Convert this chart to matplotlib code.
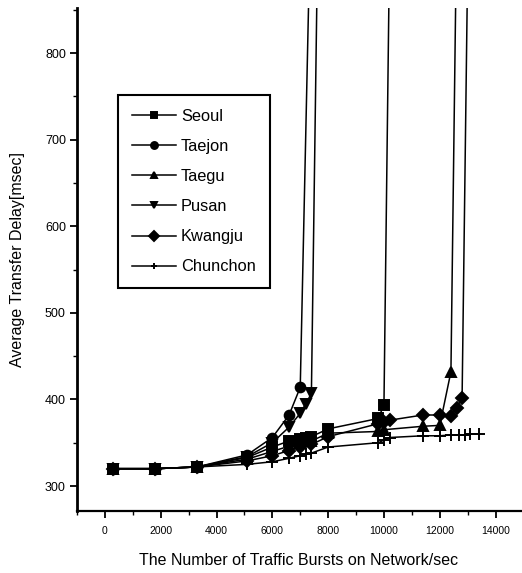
import matplotlib.pyplot as plt
from matplotlib.ticker import MultipleLocator

plt.rcParams['font.family'] = ['Liberation Sans', 'DejaVu Sans']

# values (last point of a saturating series is off-scale)
seoul_x = [300, 1800, 3300, 5100, 6000, 6600, 7000, 7200, 7400, 8000, 9800, 10000, 10200]
seoul_y = [320, 320, 322, 333, 345, 352, 354, 355, 357, 366, 378, 394, 920]

taejon_x = [300, 1800, 3300, 5100, 6000, 6600, 7000, 7400]
taejon_y = [320, 320, 322, 336, 356, 382, 414, 1006]

taegu_x = [300, 1800, 3300, 5100, 6000, 6600, 7000, 7400, 8000, 9800, 10000, 11400, 12000, 12400, 12700]
taegu_y = [320, 320, 322, 331, 340, 346, 350, 352, 361, 363, 365, 369, 370, 432, 1186]

pusan_x = [300, 1800, 3300, 5100, 6000, 6600, 7000, 7200, 7400, 8000]
pusan_y = [320, 320, 322, 334, 350, 368, 384, 395, 407, 1804]

kwangju_x = [300, 1800, 3300, 5100, 6000, 6600, 7000, 7400, 8000, 9800, 10000, 10200,
             11400, 12000, 12400, 12600, 12800, 13100]
kwangju_y = [320, 320, 322, 329, 335, 341, 345, 348, 357, 372, 374, 376,
             382, 382, 381, 390, 402, 1152]

chunchon_x = [300, 1800, 3300, 5100, 6000, 6600, 7000, 7200, 7400, 8000, 9800, 10000, 10200,
              11400, 12000, 12400, 12700, 12900, 13100, 13400]
chunchon_y = [320, 320, 322, 325, 328, 332, 335, 337, 338, 345, 350, 353, 356,
              358, 358, 359, 359, 359, 360, 360]

series = [
    ("Seoul", seoul_x, seoul_y, 's'),
    ("Taejon", taejon_x, taejon_y, 'o'),
    ("Taegu", taegu_x, taegu_y, '^'),
    ("Pusan", pusan_x, pusan_y, 'v'),
    ("Kwangju", kwangju_x, kwangju_y, 'D'),
    ("Chunchon", chunchon_x, chunchon_y, '+'),
]

fig = plt.figure(figsize=(5.22, 5.73), dpi=100)
ax = fig.add_axes([0.1475, 0.108, 0.85, 0.878])

for name, xs, ys, mk in series:
    ms = {'D': 6, '+': 8}.get(mk, 7)
    ax.plot(xs, ys, color='black', lw=1.1, marker=mk, ms=ms,
            mew=1.4, label=name)

ax.set_xlim(-1000, 14900)
ax.set_ylim(271, 852)
ax.xaxis.set_major_locator(MultipleLocator(2000))
ax.xaxis.set_minor_locator(MultipleLocator(1000))
ax.yaxis.set_major_locator(MultipleLocator(100))
ax.yaxis.set_minor_locator(MultipleLocator(50))

for side in ['top', 'right']:
    ax.spines[side].set_visible(False)
ax.spines['left'].set_linewidth(2.0)
ax.spines['bottom'].set_linewidth(1.6)

ax.tick_params(axis='both', which='major', direction='out', length=5, width=1.3)
ax.tick_params(axis='both', which='minor', direction='out', length=3, width=1.0)
ax.tick_params(axis='y', labelsize=9, pad=3)
ax.tick_params(axis='x', labelsize=7.5, pad=6)

ax.set_xlabel("The Number of Traffic Bursts on Network/sec", fontsize=11.5, labelpad=12)
ax.set_ylabel("Average Transfer Delay[msec]", fontsize=11.5, labelpad=14)

leg = ax.legend(loc='upper left', bbox_to_anchor=(0.092, 0.827), borderaxespad=0,
                fontsize=11.8, frameon=True, fancybox=False, edgecolor='black', framealpha=1,
                handlelength=2.7, labelspacing=0.92, borderpad=0.85, handletextpad=0.3)
leg.get_frame().set_linewidth(1.5)
for h in leg.legend_handles:
    h.set_markersize(5)

fig.savefig("out.png", dpi=100)
